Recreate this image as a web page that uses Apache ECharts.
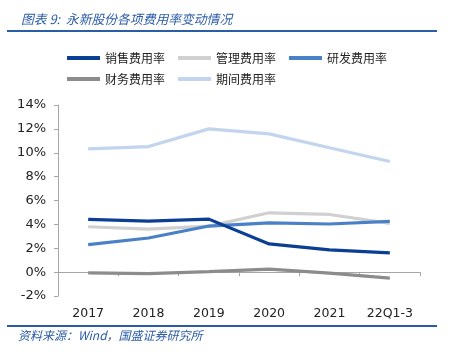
<!DOCTYPE html>
<html>
<head>
<meta charset="utf-8">
<script src="https://cdn.jsdelivr.net/npm/echarts@6/dist/echarts.min.js"></script>
<style>
html,body{margin:0;padding:0;background:#fff;}
#c{width:450px;height:356px;}
</style>
</head>
<body>
<div id="c"></div>
<script>
const categories = ['2017', '2018', '2019', '2020', '2021', '22Q1-3'];
const seriesNames = ['销售费用率', '管理费用率', '研发费用率', '财务费用率', '期间费用率'];
const sales = [4.42, 4.28, 4.44, 2.36, 1.86, 1.61];
const admin = [3.80, 3.61, 3.85, 4.97, 4.83, 4.08];
const rnd = [2.30, 2.86, 3.86, 4.13, 4.03, 4.25];
const finance = [-0.06, -0.12, 0.05, 0.25, -0.08, -0.50];
const period = [10.33, 10.52, 12.00, 11.58, 10.42, 9.27];
const yTicks = { min: -2, max: 14, interval: 2 };

const colors = ['#0b3f94', '#d0d0d0', '#4a80c8', '#8c8c8c', '#c3d4ee'];
const values = [sales, admin, rnd, finance, period];
const zOrder = [5, 3, 4, 2, 1];

const chart = echarts.init(document.getElementById('c'), null, { renderer: 'canvas' });
const legendText = { fontFamily: 'Noto Sans CJK SC', fontSize: 12, color: '#222', padding: [0, 0, 0, 0] };

chart.setOption({
  animation: false,
  backgroundColor: '#fff',
  title: {
    text: '图表 9:  永新股份各项费用率变动情况',
    left: 16, top: 8,
    textStyle: { fontFamily: 'Noto Sans CJK SC', fontStyle: 'italic', fontWeight: 'normal', fontSize: 12.8, color: '#2a5ba8' }
  },
  graphic: [
    { type: 'line', shape: { x1: 7, y1: 31, x2: 437, y2: 31 }, style: { stroke: '#2a5ca8', lineWidth: 2 } },
    { type: 'line', shape: { x1: 7, y1: 326, x2: 437, y2: 326 }, style: { stroke: '#2a5ca8', lineWidth: 2 } },
    { type: 'text', left: 18, top: 329,
      style: { text: '资料来源：Wind，国盛证券研究所', fontFamily: 'Noto Sans CJK SC', fontStyle: 'italic', fontSize: 12, fill: '#2a5ba8' } }
  ],
  legend: [
    { data: seriesNames.slice(0, 3), left: 67, top: 52, padding: 0, itemWidth: 33, itemHeight: 4, itemGap: 13,
      icon: 'rect', textStyle: legendText },
    { data: seriesNames.slice(3), left: 67, top: 73, padding: 0, itemWidth: 33, itemHeight: 4, itemGap: 13,
      icon: 'rect', textStyle: legendText }
  ],
  grid: { left: 58, right: 30, top: 105, bottom: 60, containLabel: false },
  xAxis: {
    type: 'category', data: categories, boundaryGap: true,
    axisLine: { onZero: true, lineStyle: { color: '#a6a6a6', width: 1 } },
    axisTick: { show: true, length: 4, alignWithLabel: false, lineStyle: { color: '#a6a6a6' } },
    axisLabel: { margin: 11, color: '#222', fontFamily: 'DejaVu Sans', fontSize: 12.5 }
  },
  yAxis: {
    type: 'value', min: yTicks.min, max: yTicks.max, interval: yTicks.interval,
    axisLine: { show: true, lineStyle: { color: '#a6a6a6', width: 1 } },
    axisTick: { show: true, length: 4, lineStyle: { color: '#a6a6a6' } },
    splitLine: { show: false },
    axisLabel: { margin: 12, color: '#222', fontFamily: 'DejaVu Sans', fontSize: 13, formatter: v => v + '%' }
  },
  series: seriesNames.map((n, i) => ({
    name: n, type: 'line', data: values[i], symbol: 'none', z: zOrder[i],
    lineStyle: { color: colors[i], width: 3.2 }, itemStyle: { color: colors[i] }
  }))
});
</script>
</body>
</html>
